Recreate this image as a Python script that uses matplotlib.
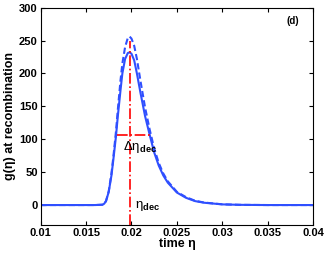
import numpy as np
import matplotlib.pyplot as plt

plt.rcParams['font.family'] = ['Liberation Sans', 'DejaVu Sans']
plt.rcParams['font.weight'] = 'bold'
plt.rcParams['mathtext.fontset'] = 'custom'
plt.rcParams['mathtext.bf'] = 'Liberation Sans:bold'
plt.rcParams['mathtext.rm'] = 'Liberation Sans'

# visibility function g(eta)
eta = [0.010, 0.016, 0.0168, 0.0170, 0.0172, 0.0175, 0.0178, 0.0180, 0.0183,
       0.0185, 0.0188, 0.0190, 0.0193, 0.0196, 0.0198, 0.0200, 0.0203, 0.0206,
       0.0210, 0.0215, 0.0220, 0.0225, 0.0230, 0.0235, 0.0240, 0.0250, 0.0260,
       0.0270, 0.0280, 0.0300, 0.0320, 0.0350, 0.0400]
g_solid = [0, 0, 0.5, 2, 6, 20, 45, 68, 105,
           135, 175, 200, 222, 231, 232, 230, 220, 200,
           170, 135, 107, 80, 60, 45, 34, 19, 11,
           6, 3.5, 1, 0.3, 0, 0]
g_dashed = [0, 0, 0.5, 2, 6, 21, 48, 72, 112,
            145, 190, 215, 240, 254, 256, 253, 242, 222,
            188, 148, 115, 86, 64, 48, 36, 20, 12,
            6.5, 3.8, 1.1, 0.3, 0, 0]

eta_dec = 0.0198
half_left, half_right, half_level = 0.0184, 0.0222, 107

fig = plt.figure(figsize=(3.27, 2.54), dpi=100)
ax = fig.add_axes([0.124, 0.115, 0.834, 0.855])

ax.plot(eta, g_solid, color='#2f4fff', lw=1.5)
ax.plot(eta, g_dashed, color='#2f4fff', lw=1.5, ls='--', dashes=(3, 1.5))
ax.plot([eta_dec, eta_dec], [-30, 250], color='red', lw=1.2, ls='-.')
ax.plot([half_left, half_right], [half_level, half_level], color='red', lw=1.2, ls='-.')

ax.text(0.01905, 88, r'Δη$_{\mathbf{dec}}$', fontsize=9.5, fontweight='normal', va='center')
ax.text(0.0204, -2, r'η$_{\mathbf{dec}}$', fontsize=9.5, fontweight='normal', va='center')
ax.text(0.0371, 280, '(d)', fontsize=7, fontweight='bold', ha='left', va='center')

ax.set_xlim(0.01, 0.04)
ax.set_ylim(-30, 300)
ax.set_xticks([0.01, 0.015, 0.02, 0.025, 0.03, 0.035, 0.04])
ax.set_xticklabels(['0.01', '0.015', '0.02', '0.025', '0.03', '0.035', '0.04'])
ax.set_yticks([0, 50, 100, 150, 200, 250, 300])
ax.tick_params(direction='in', top=True, right=True, labelsize=8, length=3, pad=2)
for lab in ax.get_xticklabels() + ax.get_yticklabels():
    lab.set_fontweight('bold')
ax.set_xlabel('time η', fontsize=9, fontweight='bold', labelpad=0)
ax.set_ylabel('g(η) at recombination', fontsize=9, fontweight='bold', labelpad=2)

fig.savefig('out.png', dpi=100)
